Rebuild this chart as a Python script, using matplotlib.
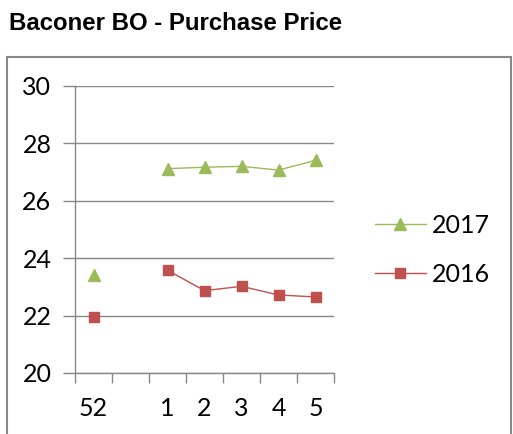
import numpy as np
import matplotlib
matplotlib.use("Agg")
import matplotlib.pyplot as plt
from matplotlib.patches import Rectangle

# Data (week numbers; gap between week 52 and week 1)
weeks = ['52', '', '1', '2', '3', '4', '5']
price_2017 = [23.40, np.nan, 27.12, 27.17, 27.20, 27.07, 27.41]
price_2016 = [21.94, np.nan, 23.58, 22.87, 23.02, 22.72, 22.65]

green = '#9BBB59'
red = '#C0504D'
grey = '#878787'

fig = plt.figure(figsize=(5.13, 4.34), dpi=100)
ax = fig.add_axes([75/513, 1-373/434, 259/513, 287/434])

x = np.arange(len(weeks))
ax.plot(x, price_2017, color=green, lw=1, marker='^', ms=8, label='2017')
ax.plot(x, price_2016, color=red, lw=1, marker='s', ms=6.5, label='2016')

ax.set_xlim(-0.5, len(weeks) - 0.5)
ax.set_ylim(20, 30)
ax.set_yticks([20, 22, 24, 26, 28, 30])
ax.set_xticks(x)
ax.set_xticklabels(weeks)
ax.set_xticks(np.arange(-0.5, len(weeks)), minor=True)
ax.tick_params(axis='x', which='major', length=0, pad=17)
ax.tick_params(axis='x', which='minor', length=7, color=grey, width=1)
ax.tick_params(axis='y', length=9, color=grey, width=1, pad=8)
for lab in ax.get_xticklabels() + ax.get_yticklabels():
    lab.set_fontfamily('Lato')
    lab.set_fontsize(18)

ax.grid(axis='y', color=grey, lw=1)
ax.set_axisbelow(True)
for s in ['top', 'right']:
    ax.spines[s].set_visible(False)
for s in ['left', 'bottom']:
    ax.spines[s].set_color(grey)
    ax.spines[s].set_linewidth(1)

leg = ax.legend(loc='center left', bbox_to_anchor=(352/513, 1-250/434),
                bbox_transform=fig.transFigure, frameon=False,
                prop={'family': 'Lato', 'size': 18},
                handlelength=2.05, handletextpad=0.25, labelspacing=1.05)

# outer chart border
fig.patches.append(Rectangle((7/513, -0.1), 504/513, 0.1 + 1-57/434,
                             transform=fig.transFigure, fill=False,
                             edgecolor=grey, lw=1.5))

fig.text(9/513, 1-23/434, 'Baconer BO - Purchase Price', fontsize=17.3,
         fontweight='bold', family='Liberation Sans', va='center')

fig.savefig('out.png', dpi=100)
